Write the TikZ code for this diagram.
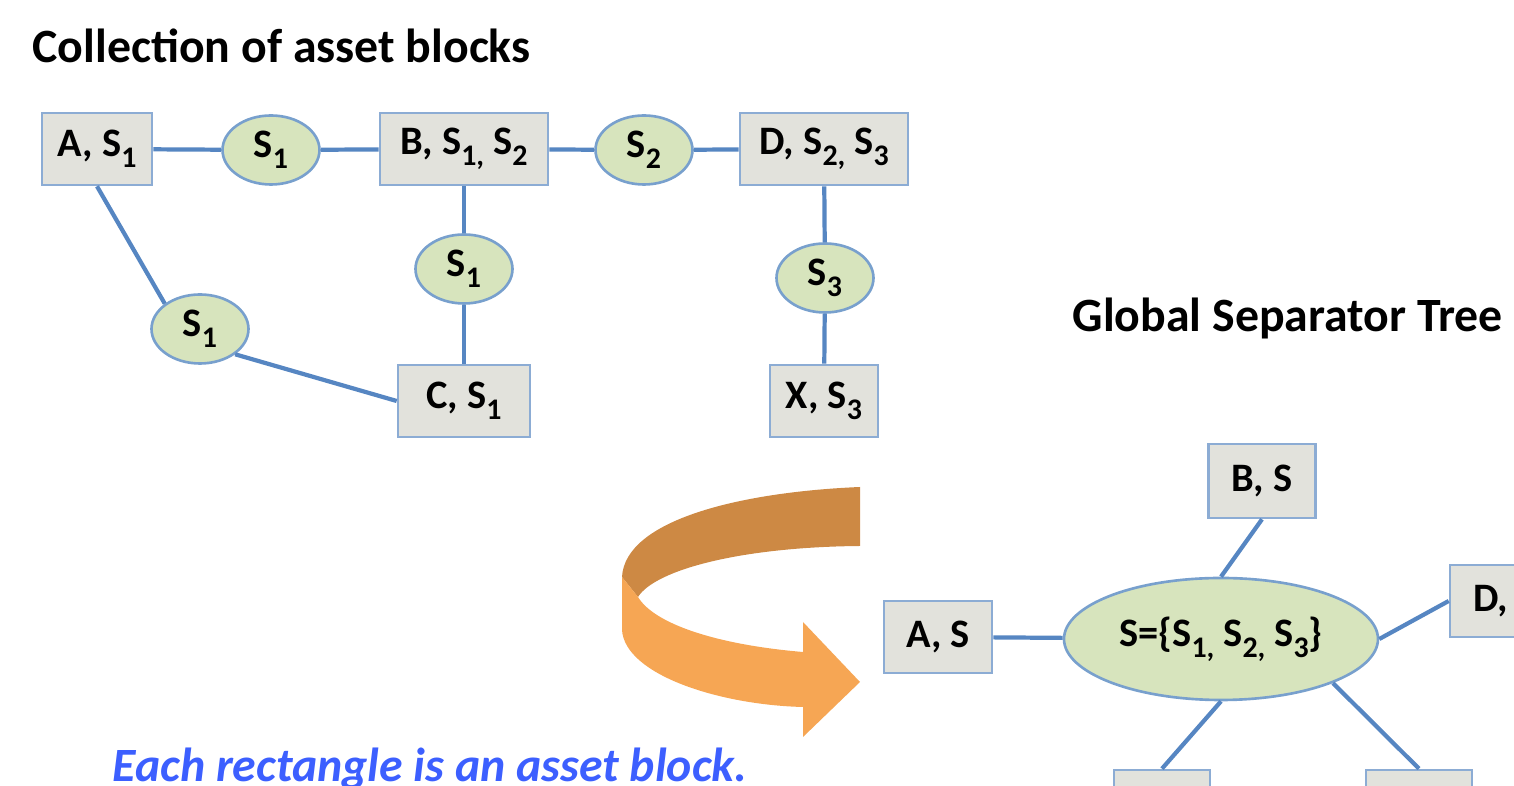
\documentclass[tikz,border=0pt]{standalone}
\usepackage{fontspec}
\setmainfont{Carlito}
\usepackage{tikz}
\usetikzlibrary{positioning, shapes.geometric}

\definecolor{linkblue}{RGB}{86,134,194}
\definecolor{boxfill}{RGB}{226,226,220}
\definecolor{boxline}{RGB}{140,172,212}
\definecolor{sepfill}{RGB}{215,228,189}
\definecolor{sepline}{RGB}{120,160,205}
\definecolor{arrowdark}{RGB}{205,137,68}
\definecolor{arrowlight}{RGB}{246,166,84}
\definecolor{notetext}{RGB}{60,95,255}

% separator name with a lowered index
\newcommand{\sepS}[1]{S\raisebox{-0.28em}{\fontsize{8.5}{8.5}\selectfont #1}}

\begin{document}
\begin{tikzpicture}[font=\bfseries\fontsize{11.5}{13}\selectfont,
                    asset/.style={rectangle, draw=boxline, line width=0.75pt, fill=boxfill, inner sep=0pt, minimum height=0.72cm},
                    sepnode/.style={ellipse, draw=sepline, line width=0.75pt, fill=sepfill, inner sep=0pt, minimum width=0.97cm, minimum height=0.69cm},
                    link/.style={draw=linkblue, line width=1.2pt},
                    heading/.style={anchor=base west, inner sep=0pt, font=\bfseries\fontsize{13.6}{16}\selectfont}]
                    \useasboundingbox (0,0) rectangle (15.14,-7.86);
                    \clip (0,0) rectangle (15.14,-7.86);

                    % Headings
                    \node[heading] (title) at (0.32,-0.63) {Collection of asset blocks};
                    \node[heading] (treetitle) at (10.72,-3.32) {Global Separator Tree};

                    % Asset blocks
                    \node[asset, minimum width=1.10cm] (A) at (0.97,-1.49) {A, \sepS{1}};
                    \node[asset, minimum width=1.68cm] (B) at (4.64,-1.49) {B, \sepS{1,} \sepS{2}};
                    \node[asset, minimum width=1.68cm] (D) at (8.24,-1.49) {D, \sepS{2,} \sepS{3}};
                    \node[asset, minimum width=1.32cm] (C) at (4.64,-4.01) {C, \sepS{1}};
                    \node[asset, minimum width=1.08cm] (X) at (8.24,-4.01) {X, \sepS{3}};

                    % Separators
                    \node[sepnode] (s1a) at (2.71,-1.50) {\sepS{1}};
                    \node[sepnode] (s2) at (6.44,-1.50) {\sepS{2}};
                    \node[sepnode] (s1b) at (4.64,-2.69) {\sepS{1}};
                    \node[sepnode] (s3) at (8.25,-2.78) {\sepS{3}};
                    \node[sepnode] (s1c) at (2.00,-3.29) {\sepS{1}};

                    \draw[link] (A) -- (s1a) -- (B) -- (s2) -- (D);
                    \draw[link] (B) -- (s1b) -- (C);
                    \draw[link] (D) -- (s3) -- (X);
                    \draw[link] (A.south) -- (s1c.north west);
                    \draw[link] (s1c.south east) -- (C.west);

                    % Turning arrow
                    \fill[arrowdark] (8.60,-4.87) .. controls (7.40,-4.92) and (6.25,-5.20) .. (6.22,-5.77)
                        -- (6.38,-5.97) .. controls (6.55,-5.70) and (7.40,-5.47) .. (8.60,-5.46) -- cycle;
                    \fill[arrowlight] (6.22,-5.77) -- (6.22,-6.30) .. controls (6.25,-6.75) and (7.20,-7.05) .. (8.03,-7.07)
                        -- (8.03,-7.37) -- (8.60,-6.82) -- (8.03,-6.22) -- (8.03,-6.52)
                        .. controls (7.20,-6.45) and (6.55,-6.25) .. (6.38,-5.97) -- cycle;

                    % Global separator tree
                    \node[sepnode, minimum width=3.14cm, minimum height=1.22cm] (S) at (12.21,-6.39) {S=\{\sepS{1,} \sepS{2,} \sepS{3}\}};
                    \node[asset, minimum width=1.07cm, minimum height=0.74cm] (BS) at (12.62,-4.81) {B, S};
                    \node[asset, minimum width=1.08cm] (AS) at (9.38,-6.37) {A, S};
                    \node[asset, minimum width=1.10cm] (DS) at (15.05,-6.01) {D, S};
                    \node[asset, minimum width=0.96cm] (CS) at (11.62,-8.06) {};
                    \node[asset, minimum width=1.06cm] (XS) at (14.19,-8.06) {};

                    \draw[link] (BS.south) -- (S.north);
                    \draw[link] (AS) -- (S);
                    \draw[link] (DS.west) -- (S.east);
                    \draw[link] (S.south) -- (CS.north);
                    \draw[link] (S.south east) -- (XS.north);

                    % Note
                    \node[anchor=base west, inner sep=0pt, text=notetext, font=\bfseries\itshape\fontsize{13.6}{16}\selectfont] (note) at (1.12,-7.82) {Each rectangle is an asset block.};
\end{tikzpicture}
\end{document}
